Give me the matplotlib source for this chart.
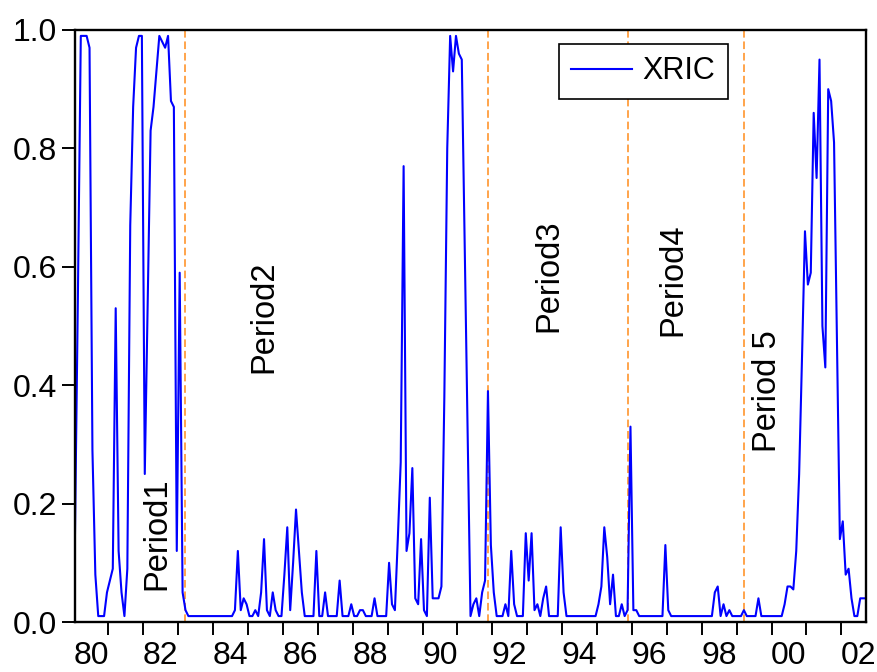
import numpy as np
import matplotlib
matplotlib.use("Agg")
import matplotlib.pyplot as plt

plt.rcParams['font.family'] = ['Liberation Sans', 'DejaVu Sans']

# monthly series, 1980m1 .. 2002m9
start_year = 1980
xric = [
    0.15, 0.55, 0.99, 0.99, 0.99, 0.97, 0.29, 0.08, 0.01, 0.01, 0.01, 0.05,   # 1980
    0.07, 0.09, 0.53, 0.12, 0.05, 0.01, 0.09, 0.67, 0.87, 0.97, 0.99, 0.99,   # 1981
    0.25, 0.54, 0.83, 0.87, 0.93, 0.99, 0.98, 0.97, 0.99, 0.88, 0.87, 0.12,   # 1982
    0.59, 0.05, 0.02, 0.01, 0.01, 0.01, 0.01, 0.01, 0.01, 0.01, 0.01, 0.01,   # 1983
    0.01, 0.01, 0.01, 0.01, 0.01, 0.01, 0.01, 0.02, 0.12, 0.02, 0.04, 0.03,   # 1984
    0.01, 0.01, 0.02, 0.01, 0.05, 0.14, 0.02, 0.01, 0.05, 0.02, 0.01, 0.01,   # 1985
    0.08, 0.16, 0.02, 0.10, 0.19, 0.12, 0.05, 0.01, 0.01, 0.01, 0.01, 0.12,   # 1986
    0.01, 0.01, 0.05, 0.01, 0.01, 0.01, 0.01, 0.07, 0.01, 0.01, 0.01, 0.03,   # 1987
    0.01, 0.01, 0.02, 0.02, 0.01, 0.01, 0.01, 0.04, 0.01, 0.01, 0.01, 0.01,   # 1988
    0.10, 0.03, 0.02, 0.14, 0.27, 0.77, 0.12, 0.15, 0.26, 0.04, 0.03, 0.14,   # 1989
    0.02, 0.01, 0.21, 0.04, 0.04, 0.04, 0.06, 0.38, 0.80, 0.99, 0.93, 0.99,   # 1990
    0.96, 0.95, 0.64, 0.33, 0.01, 0.03, 0.04, 0.01, 0.05, 0.07, 0.39, 0.13,   # 1991
    0.05, 0.01, 0.01, 0.01, 0.03, 0.01, 0.12, 0.03, 0.01, 0.01, 0.01, 0.15,   # 1992
    0.07, 0.15, 0.02, 0.03, 0.01, 0.04, 0.06, 0.01, 0.01, 0.01, 0.01, 0.16,   # 1993
    0.05, 0.01, 0.01, 0.01, 0.01, 0.01, 0.01, 0.01, 0.01, 0.01, 0.01, 0.01,   # 1994
    0.03, 0.06, 0.16, 0.11, 0.03, 0.08, 0.01, 0.01, 0.03, 0.01, 0.02, 0.33,   # 1995
    0.02, 0.02, 0.01, 0.01, 0.01, 0.01, 0.01, 0.01, 0.01, 0.01, 0.01, 0.13,   # 1996
    0.02, 0.01, 0.01, 0.01, 0.01, 0.01, 0.01, 0.01, 0.01, 0.01, 0.01, 0.01,   # 1997
    0.01, 0.01, 0.01, 0.01, 0.05, 0.06, 0.01, 0.03, 0.01, 0.02, 0.01, 0.01,   # 1998
    0.01, 0.01, 0.02, 0.01, 0.01, 0.01, 0.01, 0.04, 0.01, 0.01, 0.01, 0.01,   # 1999
    0.01, 0.01, 0.01, 0.01, 0.03, 0.06, 0.06, 0.055, 0.12, 0.25, 0.45, 0.66,  # 2000
    0.57, 0.59, 0.86, 0.75, 0.95, 0.50, 0.43, 0.90, 0.88, 0.81, 0.47, 0.14,   # 2001
    0.17, 0.08, 0.09, 0.04, 0.01, 0.01, 0.04, 0.04, 0.04,                     # 2002
]
# break months (year, month)
breaks = [(1983, 3), (1991, 11), (1995, 11), (1999, 3)]
periods = ["Period1", "Period2", "Period3", "Period4", "Period 5"]
period_x = [1982.38, 1985.45, 1993.62, 1997.18, 1999.88]
period_y = [0.15, 0.515, 0.585, 0.578, 0.39]
year_labels = ['80', '82', '84', '86', '88', '90', '92', '94', '96', '98', '00', '02']

t = start_year + (np.arange(len(xric)) + 0.5) / 12.0
brk_t = [y + (m - 0.5) / 12.0 for y, m in breaks]

fig = plt.figure(figsize=(8.77, 6.72), dpi=100)
ax = fig.add_axes([0.0855, 0.0744, 0.902, 0.881])

for b in brk_t:
    ax.axvline(b, color='#FF8C1A', lw=1.1, ls=(0, (5, 2.5)), zorder=1)
ax.plot(t, xric, color='#0000FF', lw=1.5, label='XRIC', zorder=2)

for s, px, py in zip(periods, period_x, period_y):
    ax.text(px, py, s, rotation=90, ha='center', va='center', fontsize=23.5)

ax.set_xlim(t[0], t[-1])
ax.set_ylim(0, 1.0)
ax.set_yticks([0, 0.2, 0.4, 0.6, 0.8, 1.0])
ax.set_yticklabels(['0.0', '0.2', '0.4', '0.6', '0.8', '1.0'])
ax.set_xticks(np.arange(1981, 2003))
ax.set_xticklabels([])
ax.set_xticks(np.arange(1980, 2003, 2) + 0.5, minor=True)
ax.set_xticklabels(year_labels, minor=True)
ax.tick_params(axis='x', which='major', length=9.5, width=1.4, direction='out')
ax.tick_params(axis='x', which='minor', length=0, pad=14, labelsize=23)
ax.tick_params(axis='y', length=9.5, width=1.4, direction='out', pad=3.5, labelsize=23)
for sp in ax.spines.values():
    sp.set_linewidth(1.7)

leg = ax.legend(loc='upper right', bbox_to_anchor=(0.825, 0.976), borderaxespad=0,
                fontsize=22, handlelength=2.0, handletextpad=0.35, borderpad=0.4,
                fancybox=False, framealpha=1, edgecolor='black')
leg.get_frame().set_linewidth(1.2)
leg.set_zorder(5)

fig.savefig('out.png', dpi=100)
